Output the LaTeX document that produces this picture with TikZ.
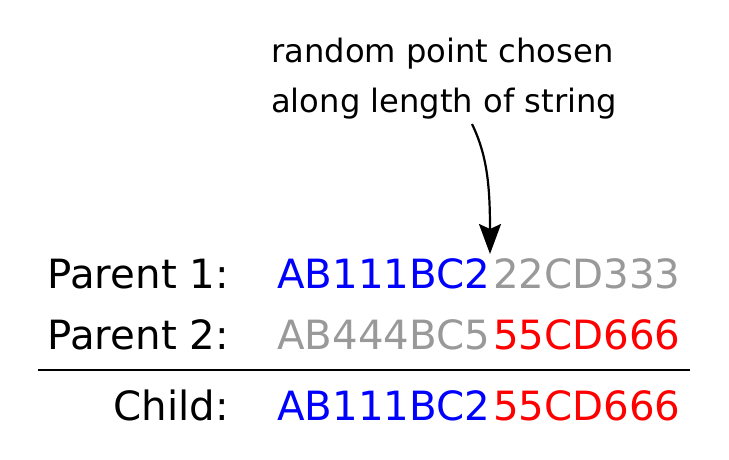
\documentclass[tikz,border=0pt]{standalone}
\usepackage{fontspec}
\setmainfont{DejaVu Sans}
\usetikzlibrary{arrows.meta,positioning}
\definecolor{pone}{RGB}{0,0,255}
\definecolor{ptwo}{RGB}{255,0,0}
\definecolor{unused}{RGB}{153,153,153}

\begin{document}
\begin{tikzpicture}[x=1pt,y=-1pt,
    gene/.style={inner sep=0pt, anchor=base west, font=\fontsize{40.3}{40.3}\selectfont},
    who/.style={inner sep=0pt, anchor=base east, font=\fontsize{40.3}{40.3}\selectfont},
    note/.style={inner sep=0pt, anchor=base west, font=\fontsize{32.2}{32.2}\selectfont}]
    \useasboundingbox (0,0) rectangle (729,459);

    \node[note] (n1) at (271,62) {random point chosen};
    \node[note] (n2) at (271,112) {along length of string};

    \node[gene, pone] (p1a) at (277,288) {AB111BC2};
    \node[gene, unused] (p1b) at (493,288) {22CD333};
    \node[who] (l1) at ([xshift=-48pt]p1a.base west) {Parent 1:};

    \node[gene, unused] (p2a) at (277,349) {AB444BC5};
    \node[gene, ptwo] (p2b) at (493,349) {55CD666};
    \node[who] (l2) at ([xshift=-48pt]p2a.base west) {Parent 2:};

    \node[gene, pone] (ca) at (277,420) {AB111BC2};
    \node[gene, ptwo] (cb) at (493,420) {55CD666};
    \node[who] (lc) at ([xshift=-48pt]ca.base west) {Child:};

    \draw[line width=2.2pt] (38,370) -- (690,370);

    \coordinate (tail) at (472,124);
    \coordinate (cut) at (490,254);
    \draw[line width=2.2pt, -{Stealth[length=30pt,width=22pt,inset=5pt]}]
        (tail) .. controls (487,155) and (490,185) .. (cut);
\end{tikzpicture}
\end{document}
